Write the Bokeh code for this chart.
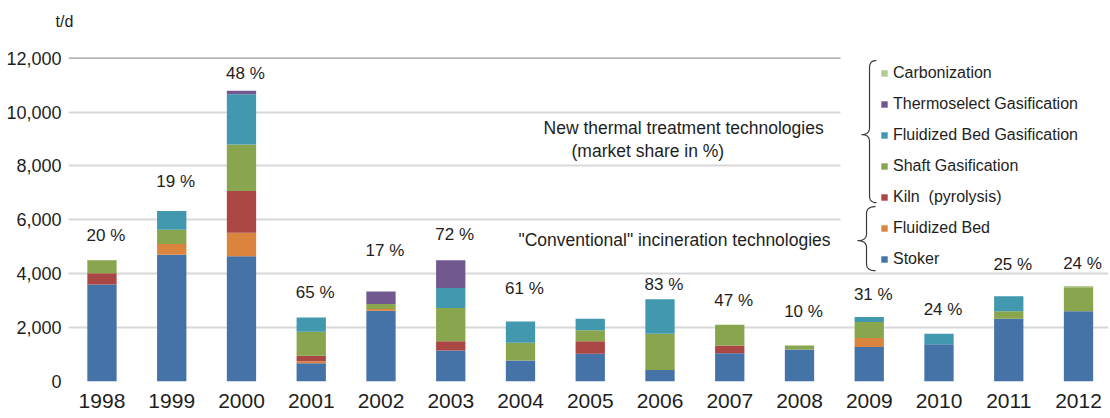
from bokeh.plotting import figure
from bokeh.models import (Range1d, FixedTicker, NumeralTickFormatter, Legend, LegendItem,
                          Label, Span, BoxAnnotation, ColumnDataSource, Title)
from bokeh.embed import file_html
from bokeh.resources import INLINE
from bokeh.core.properties import value

# ---------------- data (t/d) ----------------
years = [1998, 1999, 2000, 2001, 2002, 2003, 2004, 2005, 2006, 2007, 2008, 2009, 2010, 2011, 2012]
stoker        = [3600, 4700, 4650, 680, 2630, 1150, 780, 1030, 430, 1050, 1190, 1280, 1380, 2330, 2610]
fluidized_bed = [0, 400, 870, 70, 60, 0, 0, 0, 0, 0, 0, 330, 0, 0, 0]
kiln          = [420, 0, 1550, 210, 0, 340, 0, 460, 0, 290, 0, 0, 0, 0, 0]
shaft_gas     = [480, 530, 1730, 890, 190, 1240, 660, 410, 1340, 770, 150, 600, 0, 280, 890]
fb_gas        = [0, 700, 1860, 530, 0, 740, 790, 430, 1280, 0, 0, 180, 390, 550, 0]
thermoselect  = [0, 0, 130, 0, 460, 1030, 0, 0, 0, 0, 0, 0, 0, 0, 0]
carbonization = [0, 0, 0, 0, 0, 0, 0, 0, 0, 0, 0, 0, 0, 0, 40]
share_labels  = ["20 %", "19 %", "48 %", "65 %", "17 %", "72 %", "61 %", "", "83 %",
                 "47 %", "10 %", "31 %", "24 %", "25 %", "24 %"]
y_ticks = [0, 2000, 4000, 6000, 8000, 10000, 12000]

series_keys   = ["stoker", "fluidized_bed", "kiln", "shaft_gas", "fb_gas", "thermoselect", "carbonization"]
series_names  = ["Stoker", "Fluidized Bed", "Kiln  (pyrolysis)", "Shaft Gasification",
                 "Fluidized Bed Gasification", "Thermoselect Gasification", "Carbonization"]
series_colors = ["#4572A7", "#DB843D", "#AA4643", "#89A54E", "#4198AF", "#71588F", "#B5CA92"]

# label lift above each bar (screen px) - layout only
share_gap_px = [25, 29, 17, 25, 41, 26, 33, 0, 15, 24, 34, 23, 24, 32, 23]

FONT = "Liberation Sans"
TXT = "#1e1e1e"

# ---------------- geometry helpers (page px -> data) ----------------
FRAME_LEFT_PX, PX_PER_YEAR = 68.0, 69.75
FRAME_BOTTOM_PX = 380.7
FRAME_TOP_PX = 55.0
TD_PER_PX = 12100 / 325.7
X0, X1 = 1997.52, 2012.43
Y1 = (FRAME_BOTTOM_PX - FRAME_TOP_PX) * TD_PER_PX

def px2x(px):
    return X0 + (px - FRAME_LEFT_PX) / PX_PER_YEAR

def px2y(py):
    return (FRAME_BOTTOM_PX - py) * TD_PER_PX

p = figure(width=1110, height=418, output_backend="svg", toolbar_location=None,
           x_range=Range1d(X0, X1), y_range=Range1d(0, Y1),
           min_border_left=68, min_border_right=2, min_border_top=55, min_border_bottom=37)
p.outline_line_color = None
p.background_fill_color = "white"
p.border_fill_color = "white"

# unit label at top-left (spacer title keeps it clear of the frame)
p.add_layout(Title(text=" ", standoff=6, text_font=FONT, text_font_size="16px"), "above")
p.add_layout(Title(text="t/d", align="left", offset=-13, standoff=2, text_font=FONT,
                   text_font_size="16px", text_font_style="normal", text_color=TXT), "above")

# grid
p.xgrid.visible = False
p.ygrid.ticker = FixedTicker(ticks=y_ticks[1:-1])
p.ygrid.grid_line_color = "#D8D8D8"
p.ygrid.grid_line_width = 2
top_line = Span(location=y_ticks[-1], dimension="width", line_color="#9A9A9A", line_width=1.2,
                level="underlay")
p.add_layout(top_line)

# white panel behind legend
panel = BoxAnnotation(left=px2x(840), right=X1 + 1, bottom=px2y(270), top=Y1 + 1000,
                      fill_color="white", fill_alpha=1.0, line_color=None, level="underlay")
p.add_layout(panel)

# axes
p.yaxis.ticker = FixedTicker(ticks=y_ticks)
p.yaxis.formatter = NumeralTickFormatter(format="0,0")
p.yaxis.axis_line_color = None
p.yaxis.major_tick_line_color = None
p.yaxis.minor_tick_line_color = None
p.yaxis.major_tick_out = 0
p.yaxis.major_tick_in = 0
p.yaxis.minor_tick_out = 0
p.yaxis.major_label_text_font = FONT
p.yaxis.major_label_text_font_size = "18px"
p.yaxis.major_label_text_color = TXT
p.yaxis.major_label_standoff = 7

p.xaxis.ticker = FixedTicker(ticks=years)
p.xaxis.axis_line_color = None
p.xaxis.major_tick_line_color = None
p.xaxis.minor_tick_line_color = None
p.xaxis.major_tick_out = 0
p.xaxis.major_tick_in = 0
p.xaxis.minor_tick_out = 0
p.xaxis.major_label_text_font = FONT
p.xaxis.major_label_text_font_size = "21px"
p.xaxis.major_label_text_color = TXT
p.xaxis.major_label_standoff = 12

# stacked bars
data = dict(year=years, stoker=stoker, fluidized_bed=fluidized_bed, kiln=kiln,
            shaft_gas=shaft_gas, fb_gas=fb_gas, thermoselect=thermoselect,
            carbonization=carbonization)
src = ColumnDataSource(data)
renderers = p.vbar_stack(series_keys, x="year", width=0.42, source=src,
                         color=series_colors, line_color=None)

# share labels
totals = [sum(v) for v in zip(stoker, fluidized_bed, kiln, shaft_gas, fb_gas, thermoselect, carbonization)]
lab_src = ColumnDataSource(dict(x=years, y=[t + g * TD_PER_PX for t, g in zip(totals, share_gap_px)],
                                text=share_labels))
p.text(x="x", y="y", text="text", source=lab_src, text_align="center", text_baseline="middle",
       text_font=value(FONT), text_font_size="17px", text_color=TXT, x_offset=4)

# annotations
for txt, xp, yp in [("New thermal treatment technologies", 543, 127),
                    ("(market share in %)", 571, 150),
                    ("\"Conventional\" incineration technologies", 518, 239)]:
    p.add_layout(Label(x=px2x(xp), y=px2y(yp), text=txt, text_font=FONT, text_font_size="17.5px",
                       text_color=TXT, text_baseline="middle", text_align="left"))

# braces
def brace(x_end, x_line, x_tip, y_top, y_mid, y_bot, r=7, n=10):
    pts = []
    def quad(p0, c, p1):
        for i in range(n + 1):
            t = i / n
            pts.append(((1 - t) ** 2 * p0[0] + 2 * (1 - t) * t * c[0] + t ** 2 * p1[0],
                        (1 - t) ** 2 * p0[1] + 2 * (1 - t) * t * c[1] + t ** 2 * p1[1]))
    quad((x_end, y_top), (x_line, y_top), (x_line, y_top + r))
    quad((x_line, y_mid - r), (x_line, y_mid), (x_tip, y_mid))
    quad((x_tip, y_mid), (x_line, y_mid), (x_line, y_mid + r))
    quad((x_line, y_bot - r), (x_line, y_bot), (x_end, y_bot))
    return [px2x(a) for a, b in pts], [px2y(b) for a, b in pts]

for args in [(876, 869, 861, 60, 134, 202), (875, 866, 857, 206, 240, 270)]:
    bx, by = brace(*args)
    p.line(bx, by, line_color="#3a3a3a", line_width=1.2)

# legend (top to bottom: Carbonization ... Stoker)
items = [LegendItem(label=series_names[i], renderers=[renderers[i]])
         for i in range(len(series_names) - 1, -1, -1)]
legend = Legend(items=items, location=(812, 112), orientation="vertical",
                label_text_font=FONT, label_text_font_size="16px", label_text_color=TXT,
                glyph_width=8, glyph_height=8, label_standoff=5, label_height=20,
                spacing=11, padding=0, margin=0, border_line_color=None,
                background_fill_alpha=0)
p.add_layout(legend, "center")

open("out.html", "w").write(file_html(p, INLINE))
